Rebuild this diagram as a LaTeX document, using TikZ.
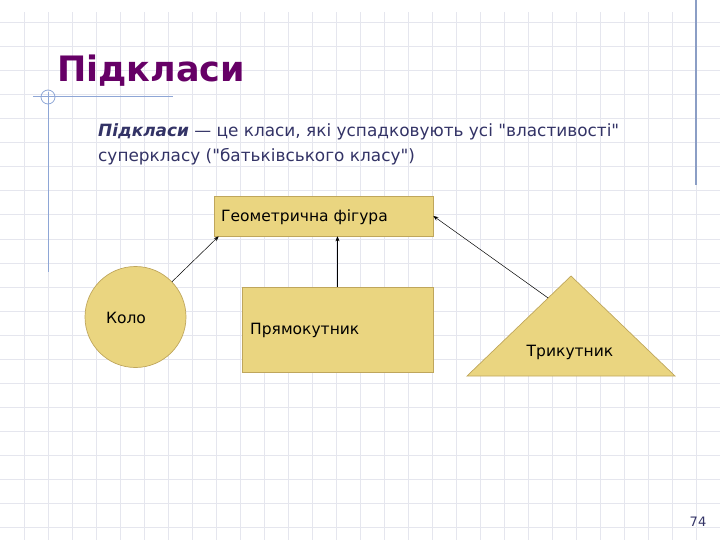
\documentclass[tikz,border=0pt]{standalone}
\usepackage{fontspec}
\setmainfont{DejaVu Sans}[Ligatures=TeXOff]
\usetikzlibrary{arrows.meta, calc}
\definecolor{titlecol}{HTML}{660066}
\definecolor{textcol}{HTML}{333366}
\definecolor{gridcol}{HTML}{E5E6EE}
\definecolor{marginblue}{HTML}{8EA6D6}
\definecolor{figfill}{HTML}{EAD580}
\definecolor{figline}{HTML}{BFA65C}
\begin{document}
\begin{tikzpicture}[x=1pt, y=-1pt,
		figshape/.style={draw=figline, fill=figfill, line width=0.7pt},
		figlabel/.style={font=\fontsize{15.5}{18}\selectfont, inner sep=0pt},
		isa/.style={-{Stealth[length=5pt, width=4pt]}, line width=0.5pt}]
		\useasboundingbox (0, 0) rectangle (720, 540);
		% squared paper
		\foreach \gx in {24, 48, ..., 696}
			\draw[gridcol, line width=1pt](\gx, 12)--(\gx, 540);
		\foreach \gy in {23, 47, ..., 527}
			\draw[gridcol, line width=1pt](0, \gy)--(720, \gy);
		\draw[marginblue, line width=1pt](33, 97)--(173, 97);
		\draw[marginblue, line width=1pt](48, 92)--(48, 272);
		\draw[marginblue, line width=0.8pt](48, 97) circle (7);
		\draw[marginblue!80!gray, line width=1.2pt](696, 0)--(696, 185);
		% title and text
		\node[anchor=base west, inner sep=0pt, text=titlecol, font=\fontsize{35}{40}\selectfont\bfseries](title) at (57, 82){Підкласи};
		\node[anchor=base west, inner sep=0pt, text=textcol, font=\fontsize{16.9}{20}\selectfont](line1) at (98, 137){\textbf{\textit{Підкласи}} — це класи, які успадковують усі "властивості"};
		\node[anchor=base west, inner sep=0pt, text=textcol, font=\fontsize{16.9}{20}\selectfont](line2) at (98, 162){суперкласу ("батьківського класу")};
		\node[text=textcol, font=\fontsize{13}{15}\selectfont, inner sep=0pt](page) at (698, 522){74};
		% figures
		\node[figshape, minimum width=219pt, minimum height=40pt, inner sep=0pt](fig) at (323.5, 216){};
		\node[figlabel, anchor=west] at (221, 217){Геометрична фігура};
		\node[figshape, circle, minimum size=101pt, inner sep=0pt](kolo) at (135.5, 317){};
		\node[figlabel] at (126, 318){Коло};
		\node[figshape, minimum width=191pt, minimum height=85pt, inner sep=0pt](pryam) at (337.5, 329.5){};
		\node[figlabel, anchor=west] at (250, 330){Прямокутник};
		\coordinate (apex) at (571, 276);
		\coordinate (left) at (467, 376);
		\coordinate (right) at (675, 376);
		\draw[figshape](apex)--(left)--(right)--cycle;
		\node[figlabel](trykut) at (570, 352){Трикутник};
		\coordinate (side) at ($(apex)!0.22!(left)$);
		% inheritance
		\draw[isa](kolo.44)--($(fig.south west)+(5, 0)$);
		\draw[isa](pryam.north)--(pryam.north |- fig.south);
		\draw[isa](side)--(fig.east);
	\end{tikzpicture}
\end{document}
